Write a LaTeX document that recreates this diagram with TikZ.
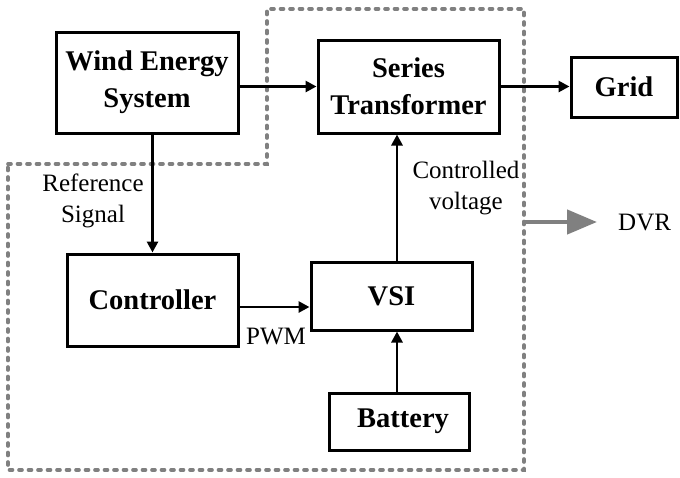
\documentclass[tikz,border=0pt]{standalone}
\usepackage{fontspec}
\setmainfont{Liberation Serif}
\usepackage{tikz}
\usetikzlibrary{positioning, arrows.meta}
\definecolor{zonegray}{RGB}{128,128,128}
\tikzset{
  blk/.style   ={draw, line width=3pt, align=center, inner sep=2pt,
                 font=\fontsize{28.5}{37}\selectfont\bfseries},
  zone/.style  ={draw=zonegray, line width=3.6pt, line cap=round,
                 dash pattern=on 3pt off 6.5pt},
  flow/.style  ={-{Triangle[length=11pt, width=11pt]}, line width=2.8pt},
  flowbig/.style={-{Triangle[length=11pt, width=11pt]}, line width=3.8pt},
  dvrflow/.style={-{Triangle[length=30pt, width=24pt]}, line width=4.5pt, draw=zonegray, fill=zonegray},
  lbl/.style   ={font=\fontsize{25}{31}\selectfont, align=center, inner sep=0pt},
}
\begin{document}
\begin{tikzpicture}[x=1pt, y=-1pt]
  \useasboundingbox (0,0) rectangle (680,477);
  % DVR region
  \draw[zone] (8,164) -- (267,164) -- (267,9) -- (524,9) -- (524,470) -- (8,470) -- cycle;
  % blocks
  \node[blk, minimum width=182pt, minimum height=101pt] (wind)   at (147,82.5)  {Wind Energy\\System};
  \node[blk, minimum width=181pt, minimum height=93pt]  (series) at (408.5,86.5) {Series\\Transformer};
  \node[blk, minimum width=106pt, minimum height=60pt]  (grid)   at (624,87)    {Grid};
  \node[blk, minimum width=171pt, minimum height=92pt]  (ctrl)   at (152.5,300) {Controller};
  \node[blk, minimum width=161pt, minimum height=68pt]  (vsi)    at (391.5,296) {VSI};
  \node[blk, minimum width=140pt, minimum height=57pt]  (batt)   at (399,421.5) {\hspace*{8pt}Battery};
  % connections
  \draw[flowbig] (wind.east |- series.west) -- (series.west);
  \draw[flowbig] (series.east) -- (series.east -| grid.west);
  \draw[flow] (ctrl.north |- wind.south) -- (ctrl.north);
  \draw[flow] ([yshift=-7pt]ctrl.east) -- ([yshift=-7pt]ctrl.east -| vsi.west);
  \draw[flow] ([xshift=5.5pt]vsi.north) -- ([xshift=5.5pt]vsi.north |- series.south);
  \draw[flow] ([xshift=-2pt]batt.north) -- ([xshift=-2pt]batt.north |- vsi.south);
  % labels
  \node[lbl] (refsig) at (93,201)  {Reference\\Signal};
  \node[lbl] (cvolt)  at (466,188) {Controlled\\voltage};
  \node[lbl] (pwm)    at (276,336) {PWM};
  \node[lbl, anchor=west] (dvr) at (618,222) {DVR};
  \coordinate (dvrtail) at (525,222);
  \draw[dvrflow] (dvrtail) -- ([xshift=-21pt]dvr.west);
\end{tikzpicture}
\end{document}
